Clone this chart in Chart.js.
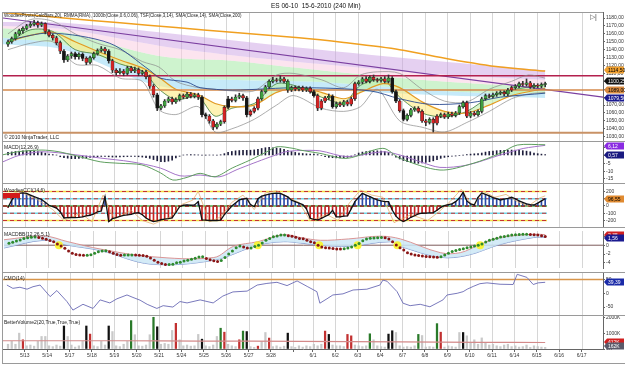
<!DOCTYPE html>
<html>
<head>
<meta charset="utf-8">
<script src="https://cdn.jsdelivr.net/npm/chart.js"></script>
<style>
  body { margin: 0; width: 625px; height: 366px; overflow: hidden; position: relative; background: #fff;
         font-family: "Liberation Sans", Arial, sans-serif; }
  canvas { position: absolute; left: 0; }
  .lbl { position: absolute; font-size: 5px; line-height: 6px; color: #222; white-space: pre; }
  .sep { position: absolute; left: 2px; width: 623px; height: 1px; background: #9a9a9a; }
</style>
</head>
<body>
<canvas id="cPrice" width="625" height="129" style="top:12px"></canvas>
<canvas id="cMacd" width="625" height="42" style="top:141px"></canvas>
<canvas id="cCci" width="625" height="44" style="top:183px"></canvas>
<canvas id="cBb" width="625" height="45" style="top:227px"></canvas>
<canvas id="cCmo" width="625" height="43" style="top:272px"></canvas>
<canvas id="cVol" width="625" height="48" style="top:315px"></canvas>

<div class="sep" style="top:12px;width:601px"></div>
<div class="sep" style="top:141px"></div>
<div class="sep" style="top:183px"></div>
<div class="sep" style="top:227px"></div>
<div class="sep" style="top:272px"></div>
<div class="sep" style="top:315px"></div>
<div class="sep" style="top:363px"></div>
<div style="position:absolute;left:2px;top:12px;width:1px;height:352px;background:#9a9a9a"></div>

<div class="lbl" style="left:271px;top:2px;font-size:6.5px;line-height:7px;color:#111">ES 06-10  15-6-2010 (240 Min)</div>
<div class="lbl" style="left:4px;top:13px;font-size:4.5px">WoodiesPivots(CalcBars,20), RMMA(RMA), 1000b(Close,0.6,0.06), TSF(Close,3,14), SMA(Close,14), SMA(Close,200)</div>
<div class="lbl" style="left:590px;top:13px;font-size:7px;line-height:8px;color:#444">▷|</div>
<div class="lbl" style="left:4px;top:133.5px">© 2010 NinjaTrader, LLC</div>
<div class="lbl" style="left:4px;top:144px">MACD(12,26,9)</div>
<div class="lbl" style="left:4px;top:186.5px">WoodiesCCI(14,6)</div>
<div style="position:absolute;left:3px;top:193px;width:17px;height:5px;background:#d41a1a"></div>
<div class="lbl" style="left:4px;top:231px">MACDBB(12,26,5,1)</div>
<div class="lbl" style="left:4px;top:274.5px">CMO(14)</div>
<div class="lbl" style="left:4px;top:318.5px">BetterVolume2(20,True,True,True)</div>

<script>
// ---- x axis: bar index, 6 bars of 240 min per session ----
const dayTicks = [4.5, 10.5, 16.5, 22.5, 28.5, 34.5, 40.5, 46.5, 52.5, 58.5, 64.5, 70.5, 76.4,
  81.75, 87.75, 93.75, 99.75, 105.75, 111.75, 117.75, 123.75, 129.75, 135.75, 141.75, 147.75, 153.75];
const dayLabels = ['5/13', '5/14', '5/17', '5/18', '5/19', '5/20', '5/21', '5/24', '5/25', '5/26', '5/27', '5/28', '',
  '6/1', '6/2', '6/3', '6/4', '6/7', '6/8', '6/9', '6/10', '6/11', '6/14', '6/15', '6/16', '6/17'];
const xMin = -1.34, xMax = 159.5;

// ---- price panel ----
const ohlc = [
  [1147,1152,1144,1150],[1150,1156,1148,1154],[1154,1162,1152,1160],[1160,1166,1158,1164],[1164,1169,1161,1167],
  [1167,1172,1165,1170],[1170,1175,1168,1172],[1172,1177,1170,1174],[1174,1176,1168,1171],[1171,1175,1169,1173],
  [1173,1174,1160,1163],[1163,1165,1156,1158],[1158,1160,1152,1155],[1155,1157,1146,1149],[1149,1151,1135,1138],
  [1138,1140,1124,1127],[1127,1134,1125,1132],[1132,1137,1129,1135],[1135,1137,1128,1131],[1131,1136,1128,1134],
  [1134,1136,1126,1129],[1129,1131,1121,1124],[1124,1132,1122,1130],[1130,1137,1128,1135],[1135,1141,1133,1139],
  [1139,1144,1137,1141],[1141,1143,1135,1138],[1138,1140,1123,1126],[1126,1128,1111,1114],[1114,1116,1108,1111],
  [1111,1116,1109,1113],[1113,1115,1107,1110],[1110,1119,1108,1117],[1117,1119,1111,1113],[1113,1118,1111,1115],
  [1115,1117,1107,1110],[1110,1114,1108,1112],[1112,1114,1103,1106],[1106,1108,1091,1094],[1094,1096,1080,1083],
  [1083,1085,1063,1066],[1066,1071,1064,1069],[1069,1077,1067,1075],[1075,1080,1073,1078],[1078,1080,1071,1074],
  [1074,1079,1072,1077],[1077,1084,1075,1082],[1082,1084,1078,1080],[1080,1086,1078,1084],[1084,1086,1079,1081],
  [1081,1085,1079,1083],[1083,1085,1077,1080],[1080,1082,1055,1058],[1058,1060,1053,1056],[1056,1058,1047,1050],
  [1050,1052,1039,1042],[1042,1048,1040,1046],[1046,1051,1044,1049],[1049,1069,1047,1067],[1067,1081,1065,1078],
  [1078,1080,1074,1076],[1076,1083,1074,1080],[1080,1085,1078,1082],[1082,1084,1076,1079],[1079,1081,1055,1058],
  [1058,1064,1056,1062],[1062,1068,1060,1066],[1066,1080,1064,1078],[1078,1089,1076,1087],[1087,1095,1085,1093],
  [1093,1102,1091,1100],[1100,1105,1098,1102],[1102,1104,1099,1101],[1101,1107,1099,1103],[1103,1105,1098,1100],
  [1100,1102,1086,1089],[1089,1094,1087,1092],[1092,1094,1088,1090],[1090,1094,1088,1092],[1092,1094,1087,1089],
  [1089,1093,1087,1091],[1091,1093,1085,1087],[1087,1089,1080,1082],[1082,1084,1063,1066],[1066,1077,1064,1075],
  [1075,1081,1073,1079],[1079,1084,1077,1081],[1081,1083,1066,1068],[1068,1074,1066,1072],[1072,1074,1068,1070],
  [1070,1076,1068,1074],[1074,1076,1069,1071],[1071,1080,1069,1078],[1078,1099,1076,1097],[1097,1101,1095,1099],
  [1099,1105,1097,1103],[1103,1106,1098,1100],[1100,1107,1098,1105],[1105,1108,1100,1102],[1102,1104,1099,1101],
  [1101,1105,1099,1103],[1103,1106,1098,1100],[1100,1108,1098,1104],[1104,1106,1085,1087],[1087,1089,1073,1075],
  [1075,1077,1061,1063],[1063,1065,1050,1052],[1052,1059,1050,1057],[1057,1066,1055,1064],[1064,1068,1062,1066],
  [1066,1068,1060,1062],[1062,1064,1048,1050],[1050,1052,1044,1048],[1048,1054,1046,1052],[1052,1054,1036,1047],
  [1047,1058,1045,1056],[1056,1060,1054,1058],[1058,1060,1053,1055],[1055,1061,1053,1059],[1059,1061,1055,1057],
  [1057,1062,1055,1060],[1060,1070,1058,1068],[1068,1075,1066,1073],[1073,1075,1054,1056],[1056,1062,1054,1060],
  [1060,1062,1056,1058],[1058,1064,1056,1062],[1062,1080,1060,1078],[1078,1084,1076,1082],[1082,1084,1079,1081],
  [1081,1085,1079,1083],[1083,1087,1081,1085],[1085,1088,1083,1086],[1086,1088,1082,1084],[1084,1091,1082,1089],
  [1089,1094,1087,1092],[1092,1096,1090,1094],[1094,1099,1092,1097],[1097,1100,1094,1096],[1096,1103,1094,1098],
  [1098,1100,1091,1093],[1093,1097,1091,1095],[1095,1097,1092,1094],[1094,1098,1092,1096],[1096,1099,1093,1097]
];
const candleCols = 'ggggggggrg' + 'rrrrrkggkg' + 'krggggrkrr' + 'grgrgrgrrr' + 'kgggrggrgr' + 'grkkrrggrk' +
  'rggrkrrrgg' + 'ggrgrggrgr' + 'grkrrrgkgr' + 'grrrggrgrr' + 'grgkkrkggg' + 'rrrgrrgrgr' + 'gggrgrgggr' +
  'gggrgrggrg' + 'rgrgg';

const bandBars   = [-1.34, 15, 40.5, 60, 83.6, 118.5, 144];
const bandTop    = [1175, 1174, 1162, 1152, 1140, 1124, 1114];
const bandMid1   = [1170, 1166, 1145, 1133, 1122, 1108, 1102];
const bandMid2   = [1167, 1162, 1132, 1126, 1114, 1099, 1093];
const bandMid3   = [1155, 1146, 1107, 1102, 1099, 1087, 1084];
const bandBottom = [1147, 1140, 1094, 1090, 1089, 1082, 1079];

const emaFast = [[0,1148],[6,1165],[12,1163],[18,1140],[24,1134],[30,1122],[36,1113],[40.5,1090],[45,1077],[51,1080],
  [55.5,1056],[60,1066],[66,1072],[72,1097],[78,1093],[84,1080],[90,1073],[94.5,1095],[100.5,1102],[105,1080],
  [111,1060],[117,1055],[123,1062],[129,1080],[135,1089],[144,1096]];
const emaSlow = [[0,1150],[6,1158],[12,1162],[18,1150],[24,1138],[30,1127],[36,1117],[40.5,1105],[45,1090],[51,1083],
  [55.5,1072],[60,1068],[66,1070],[72,1086],[78,1092],[84,1086],[90,1078],[94.5,1086],[100.5,1097],[105,1092],
  [111,1074],[117,1062],[123,1060],[129,1070],[135,1082],[144,1091]];
const sma200 = [[-1.5,1187],[15,1180],[30,1174],[45,1168],[60,1162],[78,1155],[90,1149],[105,1140],[118.5,1128],[132,1118],[144,1113]];
const trendLine = [[-1.34,1180],[159.5,1080]];
const priceLevels = [1107, 1089, 1035];
const envUpper = [[0,1160],[6,1178],[12,1176],[18,1160],[24,1148],[30,1140],[36,1125],[40.5,1118],[45,1100],[51,1092],
  [55.5,1090],[60,1088],[66,1088],[72,1108],[76.5,1110],[84,1102],[90,1092],[94.5,1108],[99,1112],[105,1110],
  [111,1090],[117,1075],[123,1074],[129,1090],[135,1100],[139.5,1108],[144,1104]];
const envLower = [[0,1140],[6,1148],[12,1150],[18,1122],[24,1120],[30,1104],[36,1100],[40.5,1064],[45,1058],[51,1068],
  [55.5,1036],[60,1040],[66,1052],[72,1070],[76.5,1082],[84,1066],[90,1062],[94.5,1068],[99,1090],[105,1050],
  [111,1042],[117,1036],[123,1048],[129,1062],[135,1078],[139.5,1084],[144,1086]];
const navyLine = [[0,1152],[11.3,1161],[27.3,1148],[38,1114],[40.8,1104],[48,1099],[51.5,1092],[60.3,1089],[78.3,1092],
  [97,1088],[105,1078],[113,1071],[124,1073],[132,1080],[144,1085]];
const priceTicks = [1030,1040,1050,1060,1070,1080,1090,1100,1110,1120,1130,1140,1150,1160,1170,1180];

// ---- MACD ----
const macdHist = [2,2.3,2.6,2.8,3,3,3,2.8,2.6,2.2,
  1.5,1,0.6,0.3,-0.8,-1.3,-1.7,-2,-2,-1.9,
  -1.7,-1.5,-1.2,-1,-0.8,-0.6,-0.6,-0.8,-1,-1,
  -0.9,-0.8,-0.7,-0.6,-0.6,-0.8,-1,-1.3,-1.8,-2.6,
  -3.4,-4,-4,-3.6,-3,-1.5,-0.5,0.3,0.5,0.6,
  0.5,0.4,0.3,0.2,0.3,0.3,0.3,0.5,1.2,2,
  2.6,3,3.2,3.4,3.3,3.4,3.6,4,4.5,5,
  5.2,5,4.8,4.5,4,3.2,2.6,2,1.6,1.3,
  1.1,1,0.9,0.6,0,-0.8,-1.2,-1.4,-1.5,-1.5,
  -1.4,-1.2,-0.8,0.5,1.6,2.2,2.6,2.9,3,3,
  2.8,2.5,2,0.5,-1,-2.2,-3.2,-4,-4.6,-5,
  -5,-4.8,-4.4,-4,-3.4,-2.6,-1.8,-1.2,-0.8,-0.4,
  -0.2,0,0.3,0.6,0.9,1.1,1.3,1.6,2.2,2.6,
  2.9,3.1,3.3,3.4,3.5,3.5,3.4,3.3,3.1,2.8,
  2.4,1.6,1.2,0.9,0.6];
const macdLine = [[-1.34,0.5],[2.9,2.5],[9.1,3.5],[13.4,2.5],[18,0],[24.7,-4],[30,-5],[35.9,-6],[40.8,-11],[44.2,-15.7],
  [48,-14],[51.5,-11.4],[55.5,-13.6],[60.1,-8],[64.9,-2.9],[69.4,2.4],[72.1,5.6],[76.4,4.6],[78.3,3.5],[83.6,1.4],
  [90.9,-1.8],[100.5,4.6],[105.1,-1.8],[115.8,-9.3],[124.7,-5],[131.9,1.4],[136.5,6.7],[144,6.9]];
const macdSignal = [[-1.34,-4],[2.9,0],[9.1,2.4],[18,0.5],[24.7,-1.6],[33,-4],[40.8,-8],[46.1,-13],[51.5,-12.5],[56.8,-13.6],
  [61.4,-9],[65.7,-5],[70.2,-1],[74.5,2.4],[78.3,3.2],[83.6,3],[90.9,-0.7],[100.5,2.4],[105.1,0.3],[110.5,-4],
  [115.8,-7.6],[123.1,-6.1],[131.9,0.3],[138.1,4.5],[144,6.5]];
const macdTicks = [5, 0, -5, -10, -15];

// ---- Woodies CCI ----
const cci = [-20,80,150,175,180,175,150,128,110,90,
  50,10,-10,-30,-80,-165,-160,-158,-160,-156,
  -150,-135,-128,-110,-80,-70,128,-216,-175,-160,
  -145,-130,-124,-115,-100,-92,-120,-165,-195,-216,
  -205,-190,-180,-175,-165,-90,-10,10,14,10,
  14,60,-193,-196,-200,-200,-200,-195,-120,-60,
  0,40,83,95,106,20,-10,100,135,151,
  165,175,178,175,150,125,80,60,40,20,
  -40,-170,-185,-193,-170,-145,-120,-60,-150,-150,
  -140,-138,-40,60,120,175,150,129,105,83,
  70,60,60,-55,-140,-190,-216,-190,-156,-135,
  -110,-100,-98,-95,-92,-60,-20,5,20,30,
  60,110,190,70,30,14,120,180,160,140,
  115,100,83,95,106,120,100,70,50,30,
  20,14,40,70,100];
const turboCci = [[0,150],[3,200],[7.5,100],[12,-50],[15,-200],[19.5,-100],[22.5,-220],[25.5,150],[28.5,-180],[33,-60],
  [36,-200],[39,-250],[43.5,-150],[46.5,20],[49.5,80],[51,200],[54,-220],[57,-150],[60,50],[63,150],[66,-50],
  [69,180],[72,210],[75,120],[78,50],[81,-200],[85.5,-120],[88.5,-200],[91.5,40],[94.5,220],[97.5,150],[100.5,120],
  [103.5,-230],[108,-120],[112.5,-200],[115.5,-80],[118.5,60],[121.5,230],[124.5,0],[127.5,200],[130.5,120],
  [133.5,160],[136.5,60],[139.5,0],[142.5,110],[144,140]];
const cciLevels = [200, 100, 0, -100, -200];
const cciTicks = [200, 100, 0, -100, -200];

// ---- MACDBB ----
const bbDots = [0.45,0.7,0.95,1.2,1.5,1.72,1.82,1.84,1.76,1.6,
  1.35,1.05,0.8,0.25,-0.2,-0.7,-1.3,-1.8,-2.1,-2.2,
  -2.3,-2.3,-2.15,-1.85,-1.5,-1.3,-1.25,-1.5,-1.8,-2.1,
  -2.3,-2.25,-2.2,-2.2,-2.25,-2.3,-2.35,-2.5,-2.9,-3.4,
  -3.87,-4.15,-4.37,-4.37,-4.3,-4,-3.85,-3.6,-3.4,-3.2,
  -2.95,-2.7,-2.65,-3,-3.3,-3.56,-3.72,-3.5,-2.8,-2,
  -1.3,-0.6,-0.2,-0.4,-0.63,-0.63,-0.3,0,0.5,1.1,
  1.5,1.9,2.1,2.3,2.3,2.15,2.05,1.8,1.55,1.45,
  1.1,0.8,0.55,0,-0.4,-0.55,-0.63,-0.75,-0.85,-0.88,
  -0.8,-0.65,-0.4,0,0.4,1,1.4,1.6,1.65,1.72,
  1.74,1.7,1.4,0.8,0.05,-0.6,-1.1,-1.7,-2,-2.2,
  -2.35,-2.45,-2.55,-2.62,-2.7,-2.75,-2.6,-2.25,-1.8,-1.45,
  -1.2,-0.95,-0.78,-0.6,-0.4,-0.2,0,0.3,0.75,1.1,
  1.35,1.6,1.86,2,2.15,2.3,2.36,2.42,2.47,2.49,
  2.45,2.38,2.3,2.15,2];
const bbCross = [13.4, 66.8, 83.3, 93.6, 104.3, 126.5];
const bbUpper = [[-1.34,1.24],[9.4,2.1],[15.8,0.8],[24.7,-0.9],[38.1,-2.6],[55,-2.8],[60.3,-0.25],[66.8,0.8],[73.7,2.4],
  [78.3,1.74],[83.6,1.12],[91.2,1.43],[99.7,2.05],[105.1,1.43],[115.8,-1.69],[121.2,-1.69],[126.5,0.18],[131.9,1.74],
  [140.8,2.49],[144,2.4]];
const bbLower = [[-1.34,-0.63],[9.4,1.12],[15.8,0],[24.7,-1.25],[38.1,-4.3],[55,-3.4],[66.8,0],[73.7,0.8],[78.3,0.49],
  [83.6,0],[91.2,-0.25],[102.4,0.8],[105.1,-0.25],[115.8,-2.75],[123.1,-2.3],[131.9,0.18],[140.8,1.74],[144,1.8]];
const bbTicks = [2, 0, -2, -4];

// ---- CMO ----
const cmo = [[-0.3,30],[1.3,18],[3.2,22],[5.1,15],[6.7,24],[8.6,30],[11.3,-12],[13.1,10],[15.8,-30],[17.4,-61],
  [20.1,-40],[22.8,-55],[24.7,-24],[27.3,-35],[29.2,-20],[31.9,-6],[33.5,-15],[35.4,-25],[37.3,-40],[39.9,-55],
  [41.6,-45],[44.2,-50],[46.1,-30],[48,-35],[51.5,-24],[55,-35],[57.6,-10],[60.3,5],[64.1,8],[66.8,30],[69.4,36],
  [72.1,40],[74.8,28],[77.5,45],[80.2,25],[82.8,6],[83.6,-36],[85.5,-20],[87.1,-6],[89.8,-2],[92.5,12],[96.2,15],
  [99.7,30],[100.5,48],[101.6,44],[104.3,6],[105.9,-36],[107.8,-45],[110.5,-40],[113.1,-49],[116.6,-24],[117.7,-6],
  [120.4,0],[122,6],[123.1,15],[124.7,25],[126.5,35],[128.4,38],[131.9,33],[135.4,32],[136.5,69],[139.1,58],
  [140.8,32],[142.1,38],[144,40]];
const cmoLevel = 50;
const cmoTicks = [50, 0, -50];

// ---- Better Volume (thousands) ----
const volume = [300,480,300,1000,580,200,250,180,480,790,
  790,200,150,250,180,1450,790,250,120,200,
  480,1450,940,200,150,480,250,1450,1100,200,
  150,300,480,1790,900,200,180,250,900,2000,
  1400,300,350,300,1170,1620,580,200,250,180,
  200,920,620,200,150,250,790,1310,1060,300,
  200,150,580,1130,1100,150,100,180,480,1040,
  690,150,200,120,180,1000,150,100,200,120,
  200,150,300,200,300,1130,920,250,200,200,
  150,920,830,250,200,150,200,960,580,200,
  150,120,940,1150,1040,200,120,150,120,200,
  920,850,120,150,120,1600,1060,120,200,150,
  120,1040,1040,830,400,580,300,700,400,250,
  300,200,150,250,300,150,200,120,150,250,
  100,200,150,120,100];
const volCols = 'yyyyryyyyy' + 'yyyyykyyyy' + 'ykryyyykyy' + 'yyygyyyyyg' + 'kyyyyryyyy' + 'yykyyyygry' +
  'yyrgkyyryy' + 'ryyyykyyyy' + 'yyyyyrkyyy' + 'yrryyyygyy' + 'yykkyyyyyy' + 'gyyyygryyy' + 'yykyyyyyyy' +
  'yyyyyyyyyy' + 'yyyyy';
const volAvg = [[-1.34,520],[30,520],[51.5,500],[78.3,480],[105.1,450],[126.5,420],[144,410]];
const volTicks = [0, 1000, 2000];

// ---------------------------------------------------------------------------
const FONT = 'Liberation Sans';
const pts = arr => arr.map(p => ({ x: p[0], y: p[1] }));
const perBar = arr => arr.map((v, i) => ({ x: i, y: v }));
const flat = v => [{ x: xMin, y: v }, { x: xMax, y: v }];
const toLast = v => [{ x: xMin, y: v }, { x: 144.5, y: v }];

const vgrid = {
  id: 'vgrid',
  beforeDatasetsDraw(chart) {
    const { ctx, chartArea: a, scales: { x } } = chart;
    ctx.save();
    ctx.strokeStyle = '#d6d6d6';
    ctx.lineWidth = 1;
    dayTicks.forEach(v => {
      const px = Math.round(x.getPixelForValue(v)) + 0.5;
      ctx.beginPath(); ctx.moveTo(px, a.top); ctx.lineTo(px, a.bottom); ctx.stroke();
    });
    ctx.restore();
  }
};

const tagPlugin = {
  id: 'tags',
  afterDraw(chart, args, opts) {
    const { ctx, chartArea: a, scales: { y } } = chart;
    ctx.save();
    (opts.items || []).forEach(t => {
      const py = Math.round(y.getPixelForValue(t.v));
      const x0 = a.right + 1, w = 20, h = 7;
      ctx.fillStyle = t.bg;
      ctx.beginPath();
      ctx.moveTo(x0, py); ctx.lineTo(x0 + 3, py - h / 2); ctx.lineTo(x0 + w, py - h / 2);
      ctx.lineTo(x0 + w, py + h / 2); ctx.lineTo(x0 + 3, py + h / 2); ctx.closePath();
      ctx.fill();
      ctx.fillStyle = t.fg;
      ctx.font = '5px "' + FONT + '"';
      ctx.textBaseline = 'middle';
      ctx.fillText(t.text, x0 + 4, py + 0.5);
    });
    ctx.restore();
  }
};

function xAxis(show) {
  return {
    type: 'linear', min: xMin, max: xMax, display: show, offset: false,
    afterBuildTicks: s => { s.ticks = dayTicks.map(v => ({ value: v })); },
    afterFit: s => { if (show) s.height = 14; },
    grid: { offset: false, drawOnChartArea: false, drawTicks: true, tickLength: 3, color: '#666' },
    border: { color: '#666' },
    ticks: { autoSkip: false, maxRotation: 0, padding: 1, color: '#333', font: { size: 5, family: FONT },
             callback: (v, i) => dayLabels[i] }
  };
}

function yAxis(min, max, ticks, fmt) {
  return {
    type: 'linear', position: 'right', min, max,
    afterBuildTicks: s => { s.ticks = ticks.map(v => ({ value: v })); },
    afterFit: s => { s.width = 22; s.paddingTop = 0; s.paddingBottom = 0; },
    grid: { display: true, drawOnChartArea: false, drawTicks: true, tickLength: 2, color: '#666' },
    border: { display: true, color: '#666' },
    ticks: { autoSkip: false, padding: 1, color: '#333', font: { size: 5, family: FONT }, callback: fmt }
  };
}

function makeChart(id, datasets, y, tags, showX) {
  return new Chart(document.getElementById(id), {
    type: 'bar',
    data: { datasets },
    options: {
      responsive: false, animation: false, events: [],
      layout: { padding: { left: 3, right: 0, top: 0, bottom: 0 } },
      datasets: { bar: { grouped: false } },
      elements: { point: { radius: 0 } },
      plugins: { legend: { display: false }, tooltip: { enabled: false }, tags: { items: tags } },
      scales: { x: xAxis(showX), y }
    },
    plugins: [vgrid, tagPlugin]
  });
}

function line(data, color, width, extra) {
  return Object.assign({ type: 'line', data, borderColor: color, borderWidth: width, pointRadius: 0,
                         tension: 0, fill: false }, extra || {});
}

// ---- price chart ----
const candleColor = { g: '#3f9f3f', r: '#d42424', k: '#141414' };
const bandData = arr => arr.map((v, i) => ({ x: bandBars[i], y: v }));
const bandFill = c => ({ target: '+1', above: c, below: c });
makeChart('cPrice', [
  line(bandData(bandTop), 'rgba(0,0,0,0)', 0, { order: 30, tension: 0.35, fill: bandFill('rgba(205,165,228,0.52)') }),
  line(bandData(bandMid1), 'rgba(0,0,0,0)', 0, { order: 30, tension: 0.35, fill: bandFill('rgba(250,205,225,0.55)') }),
  line(bandData(bandMid2), 'rgba(0,0,0,0)', 0, { order: 30, tension: 0.35, fill: bandFill('rgba(170,235,170,0.58)') }),
  line(bandData(bandMid3), 'rgba(0,0,0,0)', 0, { order: 30, tension: 0.35, fill: bandFill('rgba(160,220,245,0.6)') }),
  line(bandData(bandBottom), 'rgba(0,0,0,0)', 0, { order: 30, tension: 0.35 }),
  line(pts(emaFast), '#3a7a3a', 0.8, { order: 20, tension: 0.3, fill: { target: '+1', above: 'rgba(190,240,170,0.6)', below: 'rgba(255,235,130,0.6)' } }),
  line(pts(emaSlow), '#e39a22', 1.2, { order: 19, tension: 0.3 }),
  line(pts(sma200), '#f0a020', 1.5, { order: 10, tension: 0.3 }),
  line(pts(trendLine), '#7b3fa0', 1.2, { order: 9 }),
  line(flat(priceLevels[0]), '#b3204e', 1.5, { order: 8 }),
  line(flat(priceLevels[1]), '#d4894a', 1.5, { order: 8 }),
  line(flat(priceLevels[2]), '#c99266', 2, { order: 8 }),
  line(pts(envUpper), '#8a8a8a', 0.7, { order: 7, tension: 0.3 }),
  line(pts(envLower), '#8a8a8a', 0.7, { order: 7, tension: 0.3 }),
  line(pts(navyLine), '#2a4a90', 0.9, { order: 6, tension: 0.3 }),
  { type: 'bar', order: 2, barThickness: 1, backgroundColor: '#333',
    data: ohlc.map((d, i) => ({ x: i, y: [d[2], d[1]] })) },
  { type: 'bar', order: 1, barThickness: 3.1, borderWidth: 0.5, borderColor: '#222', borderSkipped: false,
    backgroundColor: ohlc.map((d, i) => candleColor[candleCols[i]]),
    data: ohlc.map((d, i) => ({ x: i, y: [Math.min(d[0], d[3]), Math.max(d[0], d[3])] })) }
], yAxis(1024.6, 1187.6, priceTicks, v => v.toFixed(2).replace('.', ',')), [
  { v: 1114.5, text: '1114,50', bg: '#f0a030', fg: '#000' },
  { v: 1100.25, text: '1100,25', bg: '#111', fg: '#fff' },
  { v: 1089, text: '1089,00', bg: '#d88a40', fg: '#000' },
  { v: 1079.5, text: '1079,50', bg: '#1a1a90', fg: '#fff' }
], false);

// ---- MACD ----
makeChart('cMacd', [
  line(pts(macdLine), '#5f9f5f', 1, { order: 2, tension: 0.3 }),
  line(pts(macdSignal), '#a474c8', 1, { order: 2, tension: 0.3 }),
  { type: 'bar', order: 5, barThickness: 1, backgroundColor: '#1e1e3c', data: perBar(macdHist) }
], yAxis(-17.6, 9.3, macdTicks, v => String(v)), [
  { v: 6.12, text: '6,12', bg: '#8a2be2', fg: '#fff' },
  { v: 0.57, text: '0,57', bg: '#1a1a80', fg: '#fff' }
], false);

// ---- CCI ----
const cciSets = [];
cciLevels.forEach(v => {
  const base = Math.abs(v) === 200 ? '#f0e040' : (v === 0 ? '#4aa84a' : '#70d8e8');
  cciSets.push(line(toLast(v), base, 1.3, { order: 12 }));
  cciSets.push(line(toLast(v), v === 0 ? '#9a1a1a' : '#c83030', v === 0 ? 1.6 : 1.1, { order: 11, borderDash: [4, 3] }));
});
makeChart('cCci', [
  line(perBar(cci), '#111', 1.3, { order: 1 }),
  line(pts(turboCci), '#e0a860', 0.7, { order: 2 }),
  { type: 'bar', order: 5, barThickness: 1, data: perBar(cci),
    backgroundColor: cci.map(v => v >= 0 ? '#2a4aa8' : '#c42020') },
  ...cciSets
], yAxis(-290, 317, cciTicks, v => String(v)), [
  { v: 96.55, text: '96,55', bg: '#e08a30', fg: '#000' }
], false);

// ---- MACDBB ----
makeChart('cBb', [
  line(perBar(bbDots), 'rgba(0,0,0,0)', 0, { order: 1, showLine: false, pointRadius: 1.5, pointBorderWidth: 0,
    pointBackgroundColor: bbDots.map((v, i) => (i === 0 || v >= bbDots[i - 1]) ? '#2e8a2e' : '#8a1616') }),
  line(bbCross.map(x => ({ x, y: 0 })), 'rgba(0,0,0,0)', 0, { order: 2, showLine: false, pointRadius: 4,
    pointBorderWidth: 0, pointBackgroundColor: 'rgba(250,245,40,0.9)' }),
  line(pts(bbUpper), '#d98a8a', 0.9, { order: 6, tension: 0.35, fill: bandFill('rgba(205,232,246,0.85)') }),
  line(pts(bbLower), '#6f86c4', 0.9, { order: 6, tension: 0.35 }),
  line(flat(0), '#7d5a5a', 1, { order: 8 })
], yAxis(-5.18, 3.23, bbTicks, v => String(v)), [
  { v: 2.35, text: '2,35', bg: '#d02020', fg: '#fff' },
  { v: 1.56, text: '1,56', bg: '#1a1a90', fg: '#fff' }
], false);

// ---- CMO ----
makeChart('cCmo', [
  line(pts(cmo), '#6a6ab4', 0.9, { order: 1 }),
  line(flat(cmoLevel), '#d8954a', 1.5, { order: 3 })
], yAxis(-78.9, 77.5, cmoTicks, v => String(v)), [
  { v: 39.39, text: '39,39', bg: '#1a2aa8', fg: '#fff' }
], false);

// ---- Volume ----
const volColor = { y: '#c9c9c9', k: '#111', r: '#c23030', g: '#2a7a2a' };
makeChart('cVol', [
  line(pts(volAvg), '#d38a8a', 1.2, { order: 1, tension: 0.3 }),
  { type: 'bar', order: 3, barThickness: 1.6, data: perBar(volume),
    backgroundColor: volume.map((v, i) => volColor[volCols[i]]) }
], yAxis(0, 2144, volTicks, v => v + 'K'), [
  { v: 412, text: '412K', bg: '#d02020', fg: '#fff' },
  { v: 162, text: '162K', bg: '#5a5a6a', fg: '#fff' }
], true);
</script>
</body>
</html>
